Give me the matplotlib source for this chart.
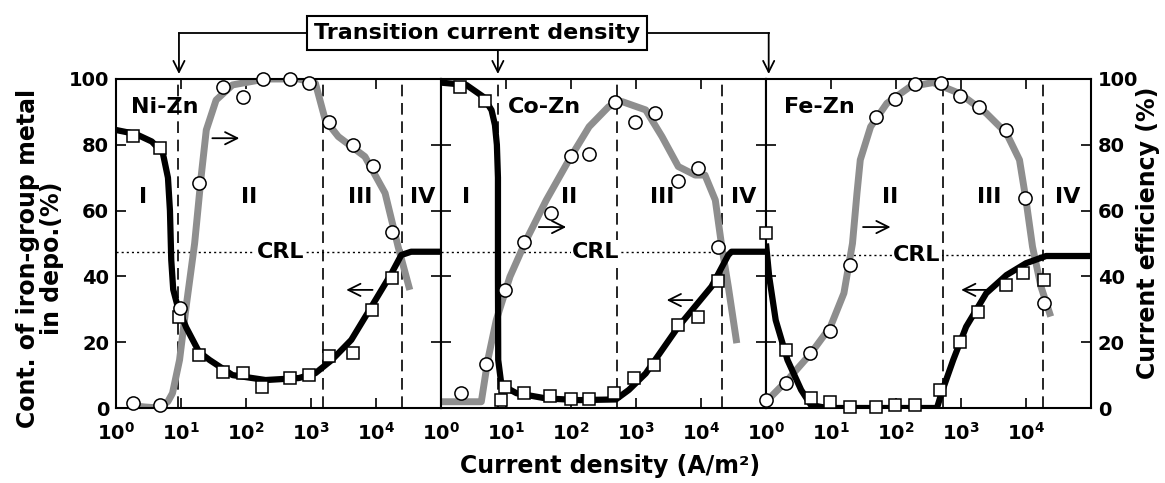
import matplotlib
matplotlib.use('Agg')
import matplotlib.pyplot as plt
from matplotlib.patches import FancyArrowPatch
from matplotlib.lines import Line2D
from matplotlib.ticker import NullLocator

plt.rcParams['font.family'] = ['DejaVu Sans']
plt.rcParams['font.weight'] = 'bold'
plt.rcParams['mathtext.fontset'] = 'dejavusans'
plt.rcParams['mathtext.default'] = 'bf'

# ---- Ni-Zn ----
ni_sq_x = [1.84, 4.7, 9.3, 19, 45, 89, 178, 470, 930, 1860, 4470, 8710, 17800]
ni_sq_y = [82.7, 78.9, 27.8, 16.1, 11.0, 10.5, 6.5, 9.0, 10.0, 15.8, 16.6, 29.8, 39.4]
ni_ci_x = [1.84, 4.7, 9.5, 19, 45, 91, 182, 470, 930, 1900, 4470, 9120, 17800]
ni_ci_y = [1.6, 0.9, 30.3, 68.5, 97.7, 94.4, 99.9, 99.9, 98.9, 87, 80, 73.6, 53.6]
ni_cont_x = [1, 2.0, 3.55, 5.25, 6.3, 6.76, 7.08, 7.59, 8.9, 12, 19, 27.5, 62, 200, 650,
             1170, 2090, 4170, 8510, 17400, 24500, 34700, 1e5]
ni_cont_y = [84.5, 83.3, 81, 77.5, 70, 60, 45, 36, 30.8, 24.5, 17, 14.6, 10, 8.5, 9.1,
             10.6, 14.6, 20.7, 30.8, 41, 46.5, 47.5, 47.5]
ni_eff_x = [1.58, 2.8, 4.7, 6.3, 7.4, 9.5, 12, 16.2, 20.4, 24.5, 34.7, 62, 200, 650, 1170,
            1660, 2630, 6760, 13800, 21900, 33100]
ni_eff_y = [0.8, 0.3, 0, 2, 4.5, 14.6, 30.8, 50, 70.3, 84.5, 93.6, 98.2, 100, 100, 98.7,
            87.5, 82.5, 76.4, 65.3, 49, 35.9]
ni_dash = [8.9, 1510, 25100]
ni_crl = 47.5

# ---- Co-Zn ----
co_sq_x = [1.95, 4.7, 8.5, 9.5, 19, 48, 100, 186, 457, 933, 1860, 4370, 8910, 18200]
co_sq_y = [97.7, 93.4, 2.4, 6.5, 4.5, 3.6, 2.6, 2.6, 4.7, 9.0, 13.1, 25.2, 27.6, 38.7]
co_ci_x = [2.0, 4.9, 9.8, 19, 49, 100, 186, 479, 955, 1950, 4470, 9120, 18200]
co_ci_y = [4.7, 13.4, 35.9, 50.5, 59.4, 76.6, 77.2, 93.1, 87, 89.6, 69.1, 72.9, 48.8]
co_cont_x = [1, 2.45, 4.47, 6.0, 6.76, 7.24, 7.52, 7.52, 7.59, 8.5, 14.5, 41.7, 135, 490,
             776, 1410, 4470, 14500, 26300, 29500, 1e5]
co_cont_y = [98.9, 98.2, 94.6, 90.5, 86, 80, 70, 40, 14.6, 7, 4.5, 2.9, 2.4, 2.6,
             5.5, 10.5, 24.7, 36.9, 46.5, 47.5, 47.5]
co_eff_x = [1, 4.17, 5.25, 7.08, 11.5, 20.4, 41.7, 93, 190, 380, 617, 1410, 2510, 4470,
            8130, 11500, 16600, 20900, 26300, 35500]
co_eff_y = [1.9, 1.9, 14.6, 26.7, 39.9, 51, 63.2, 75.4, 85.5, 91.6, 93.1, 90.6, 82.5, 73.4,
            70.8, 70.8, 63.2, 49, 36.9, 19.7]
co_dash = [7.5, 513, 21400]
co_crl = 47.5

# ---- Fe-Zn ----
fe_sq_x = [1, 2.04, 4.9, 9.8, 19.5, 50, 98, 195, 479, 955, 1820, 4900, 9120, 19100]
fe_sq_y = [53.1, 17.6, 2.9, 1.9, 0.4, 0.4, 0.9, 0.9, 5.5, 20.2, 29.3, 37.4, 40.9, 38.9]
fe_ci_x = [1, 2.04, 4.8, 9.5, 19.5, 50, 98, 195, 490, 955, 1910, 5010, 9550, 18600]
fe_ci_y = [2.4, 7.5, 16.6, 23.5, 43.5, 88.4, 93.8, 98.5, 98.9, 94.8, 91.4, 84.5, 63.7, 31.8]
fe_cont_x = [1, 1.12, 1.41, 2.14, 3.47, 4.9, 8.7, 427, 501, 759, 1200, 2450, 5010, 10000,
             20400, 1e5]
fe_cont_y = [50, 39.9, 26.7, 14.6, 5.5, 0.9, 0, 0, 4.5, 14.6, 24.7, 34.9, 40.4, 44,
             46.2, 46.2]
fe_eff_x = [1, 2.14, 4.9, 9.8, 15.8, 21.4, 25.1, 28.2, 40.7, 72.4, 166, 372, 955, 2450,
            5010, 7940, 10000, 12600, 17000, 24000]
fe_eff_y = [1.9, 8.5, 16.6, 24.7, 34.9, 50, 65.3, 75.4, 85.5, 92.6, 97.7, 98.9, 95.6, 89.6,
            83.5, 75.4, 63.2, 49, 36.9, 27.8]
fe_dash = [537, 18200]
fe_crl = 46.5

# label positions (x in A/m2, y in %)
region_names = ['I', 'II', 'III', 'IV']
ni_region_x = [2.6, 112, 5750, 52500]
co_region_x = [2.45, 93, 2510, 44700]
fe_region_x = [None, 81, 2750, 43600]
transition_x = [9.3, 7.5, 1.1]

panels = [
    dict(name='Ni-Zn', name_x=5.6, sq=(ni_sq_x, ni_sq_y), ci=(ni_ci_x, ni_ci_y),
         cont=(ni_cont_x, ni_cont_y), eff=(ni_eff_x, ni_eff_y), dash=ni_dash, crl=ni_crl,
         crl_x=340, reg=ni_region_x, right_arr=((27.5, 82), (87, 82)),
         left_arr=((9770, 35.9), (3160, 35.9))),
    dict(name='Co-Zn', name_x=39, sq=(co_sq_x, co_sq_y), ci=(co_ci_x, co_ci_y),
         cont=(co_cont_x, co_cont_y), eff=(co_eff_x, co_eff_y), dash=co_dash, crl=co_crl,
         crl_x=240, reg=co_region_x, right_arr=((29, 55), (93, 55)),
         left_arr=((8130, 32.8), (2690, 32.8))),
    dict(name='Fe-Zn', name_x=6.6, sq=(fe_sq_x, fe_sq_y), ci=(fe_ci_x, fe_ci_y),
         cont=(fe_cont_x, fe_cont_y), eff=(fe_eff_x, fe_eff_y), dash=fe_dash, crl=fe_crl,
         crl_x=209, reg=fe_region_x, right_arr=((28.2, 55), (91, 55)),
         left_arr=((2750, 35.9), (912, 35.9))),
]

W, H = 1165, 483
fig = plt.figure(figsize=(W / 100, H / 100), dpi=100)

left_px, top_px, bot_px, pw = 116, 79, 408, 325
axes = []
for i, p in enumerate(panels):
    ax = fig.add_axes([(left_px + i * pw) / W, (H - bot_px) / H, pw / W, (bot_px - top_px) / H])
    axes.append(ax)
    ax.set_xscale('log')
    ax.set_xlim(1, 1e5)
    ax.set_ylim(0, 100)

    ax.plot(*p['eff'], color='#8e8e8e', lw=5, solid_capstyle='butt', solid_joinstyle='round', zorder=2)
    ax.plot(*p['cont'], color='black', lw=4.5, solid_capstyle='butt', solid_joinstyle='round', zorder=3)
    ax.plot(*p['sq'], ls='none', marker='s', ms=8.5, mfc='white', mec='black', mew=1.1,
            zorder=6, clip_on=False)
    ax.plot(*p['ci'], ls='none', marker='o', ms=9.5, mfc='white', mec='black', mew=1.1,
            zorder=6, clip_on=False)

    for xd in p['dash']:
        ax.axvline(xd, color='black', lw=1.2, ls=(0, (7, 4)), zorder=1)
    ax.axhline(p['crl'], color='black', lw=1.0, ls=(0, (1.5, 2.2)), zorder=1)
    ax.text(p['crl_x'], p['crl'], 'CRL', ha='center', va='center', fontsize=16,
            bbox=dict(fc='white', ec='none', pad=1), zorder=2.5)

    for name, xr in zip(region_names, p['reg']):
        if xr is not None:
            ax.text(xr, 64, name, ha='center', va='center', fontsize=16, zorder=5)
    ax.text(p['name_x'], 91.6, p['name'], ha='center', va='center', fontsize=16, zorder=5)

    for (a, b) in (p['right_arr'], p['left_arr']):
        ax.annotate('', xy=b, xytext=a,
                    arrowprops=dict(arrowstyle='->', lw=1.3, mutation_scale=22, color='black'),
                    zorder=5)

    ax.set_xticks([1, 10, 100, 1000, 10000])
    ax.set_xticklabels([r'$10^{%d}$' % k for k in range(5)])
    ax.xaxis.set_minor_locator(NullLocator())
    ax.set_yticks([0, 20, 40, 60, 80, 100])
    ax.tick_params(direction='in', top=True, right=True, length=7, width=1.2,
                   labelsize=14, pad=5)
    ax.tick_params(axis='x', pad=10)
    ax.tick_params(labelleft=(i == 0), labelright=(i == 2))
    for s in ax.spines.values():
        s.set_linewidth(1.5)

# transition current density annotation
inv = fig.transFigure.inverted()
tips = []
for ax, xt in zip(axes, transition_x):
    px = ax.transData.transform((xt, 100))
    tips.append(inv.transform(px)[0])
y_line = 1 - 33 / H
y_tip = 1 - 74 / H
y_box_bot = 1 - 50 / H
fig.text(477 / W, 1 - 33 / H, 'Transition current density', ha='center', va='center',
         fontsize=16, bbox=dict(boxstyle='square,pad=0.3', fc='white', ec='black', lw=1.5),
         zorder=5)
fig.add_artist(Line2D([tips[0], tips[2]], [y_line, y_line], color='black', lw=1.3, zorder=1))
for k, xt in enumerate(tips):
    y0 = y_box_bot if k == 1 else y_line
    fig.add_artist(FancyArrowPatch((xt, y0), (xt, y_tip), transform=fig.transFigure,
                                   arrowstyle='->', mutation_scale=20, lw=1.3,
                                   color='black', shrinkA=0, shrinkB=0))

fig.text(40 / W, 1 - 258 / H, 'Cont. of iron-group metal\nin depo.(%)', rotation=90,
         ha='center', va='center', fontsize=17, linespacing=0.95, multialignment='center')
fig.text(1148 / W, 1 - 233 / H, 'Current efficiency (%)', rotation=90,
         ha='center', va='center', fontsize=17)
fig.text(610 / W, 1 - 466 / H, 'Current density (A/m²)', ha='center', va='center', fontsize=17)

fig.savefig('out.png', dpi=100)
